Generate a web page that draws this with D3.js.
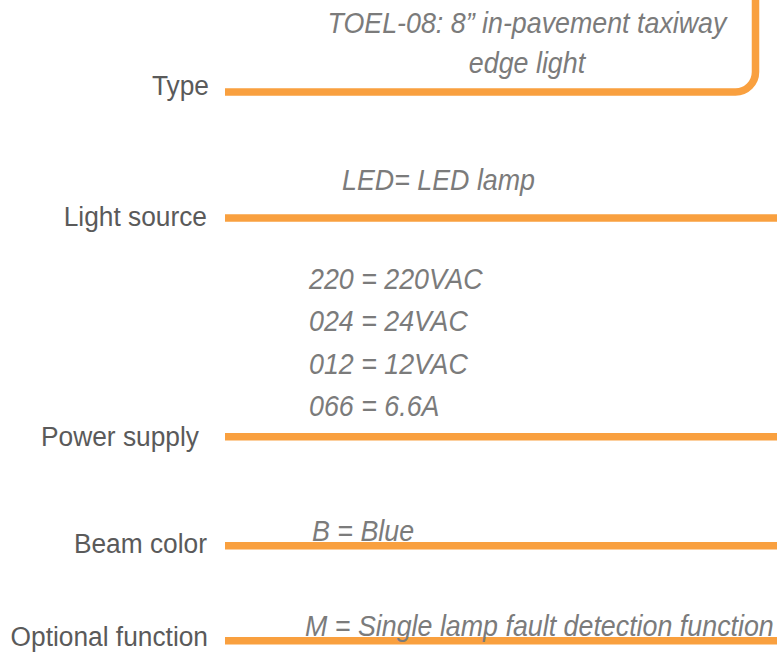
<!DOCTYPE html>
<html>
<head>
<meta charset="utf-8">
<script src="https://cdn.jsdelivr.net/npm/d3@7"></script>
<style>
  html, body { margin: 0; padding: 0; background: #fff; }
  svg { display: block; }
</style>
</head>
<body>
<svg id="chart" width="777" height="655"></svg>
<script>
// code fields, top to bottom
var fields = ["Type", "Light source", "Power supply", "Beam color", "Optional function"];
// where each field's underline sits (in text-line units)
var fieldRows = [2.19, 5.19, 10.4, 13.0, 15.26];
// options written above each line
var typeOptions = ["TOEL-08: 8\u201d in-pavement taxiway", "edge light"];
var lightOptions = ["LED= LED lamp"];
var powerOptions = ["220 = 220VAC", "024 = 24VAC", "012 = 12VAC", "066 = 6.6A"];
var beamOptions = ["B = Blue"];
var optionalOptions = ["M = Single lamp fault detection function"];

var svg = d3.select("#chart"),
    width = +svg.attr("width"),
    height = +svg.attr("height");

var orange = "#f9a03f",
    labelGrey = "#5a5a5a",
    optGrey = "#7b7b7b";

var y = d3.scaleLinear().domain([0, 15.6]).range([0, height]);
var lineStart = 225;
// label baseline drop below its line, and right edge
var labelDrop = [3, 8, 9, 7, 5];
var labelRight = [209, 207, 199, 207, 208];

// underlines
svg.append("g")
  .selectAll("line")
  .data(fields.slice(1))
  .enter().append("line")
    .attr("x1", lineStart)
    .attr("x2", width + 5)
    .attr("y1", function(d, i) { return y(fieldRows[i + 1]); })
    .attr("y2", function(d, i) { return y(fieldRows[i + 1]); })
    .attr("stroke", orange)
    .attr("stroke-width", 7.5);

// the "Type" line bends up to the top edge
var ty = y(fieldRows[0]), cx = 755.5, r = 20;
svg.append("path")
  .attr("d", "M" + lineStart + "," + ty + " H" + (cx - r) +
             " A" + r + "," + r + " 0 0 0 " + cx + "," + (ty - r) + " V-5")
  .attr("fill", "none")
  .attr("stroke", orange)
  .attr("stroke-width", 7.5);

// field labels (the source font is a little condensed)
svg.append("g")
  .selectAll("text")
  .data(fields)
  .enter().append("text")
    .attr("x", function(d, i) { return labelRight[i]; })
    .attr("y", function(d, i) { return y(fieldRows[i]) + labelDrop[i]; })
    .attr("text-anchor", "end")
    .attr("font-family", "'Liberation Sans', Arial, sans-serif")
    .attr("font-size", 28)
    .attr("fill", labelGrey)
    .attr("transform", function(d, i) {
      var ax = labelRight[i];
      return "translate(" + ax + ",0) scale(0.94,1) translate(" + (-ax) + ",0)";
    })
    .text(function(d) { return d; });

function optionBlock(list, x, y0, step, anchor) {
  svg.append("g")
    .selectAll("text")
    .data(list)
    .enter().append("text")
      .attr("x", x)
      .attr("y", function(d, i) { return y0 + i * step; })
      .attr("text-anchor", anchor)
      .attr("font-family", "'Liberation Sans', Arial, sans-serif")
      .attr("font-style", "italic")
      .attr("font-size", 29)
      .attr("fill", optGrey)
      .attr("transform", "translate(" + x + ",0) scale(0.925,1) translate(" + (-x) + ",0)")
      .text(function(d) { return d; });
}

optionBlock(typeOptions, 527, 33, 40, "middle");
optionBlock(lightOptions, 342, 190, 42, "start");
optionBlock(powerOptions, 309, 289, 42.3, "start");
optionBlock(beamOptions, 312, 541, 42, "start");
optionBlock(optionalOptions, 305, 636, 42, "start");
</script>
</body>
</html>
